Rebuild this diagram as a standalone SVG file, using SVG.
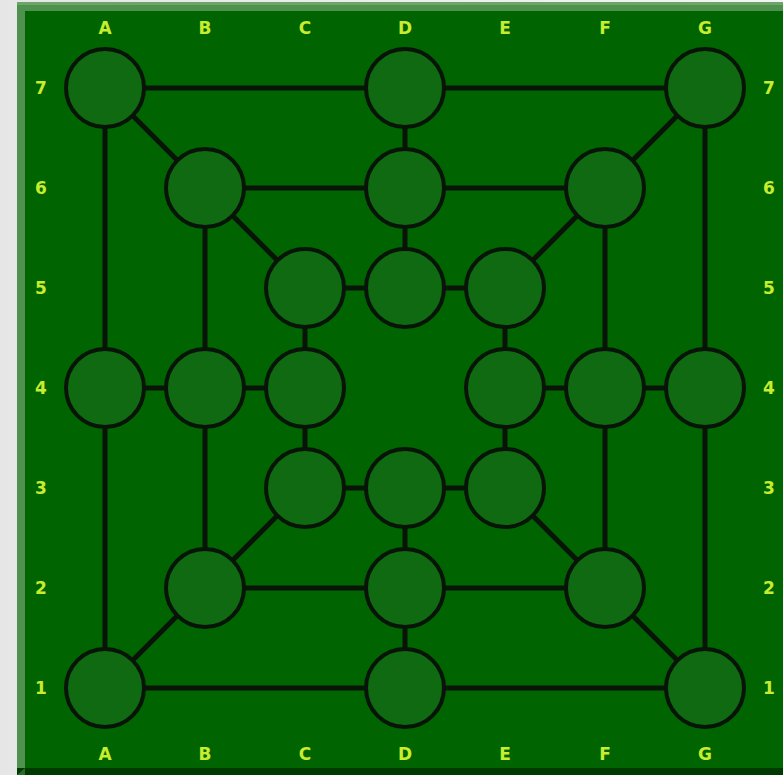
<svg xmlns="http://www.w3.org/2000/svg" width="783" height="775" viewBox="0 0 783 775">
<defs>
<linearGradient id="bg" x1="0" y1="0" x2="1" y2="0">
<stop offset="0" stop-color="#e6e6e6"/><stop offset="1" stop-color="#f4f4f4"/>
</linearGradient>
</defs>
<style>
.n{fill:#0f6a12;stroke:#081408;stroke-width:4}
.c line{stroke:#081408;stroke-width:5}
.t{font-family:"DejaVu Sans",sans-serif;font-weight:bold;font-size:17px;fill:#c8ec30;text-anchor:middle}
</style>
<rect x="0" y="0" width="783" height="775" fill="url(#bg)"/>
<rect x="17" y="2" width="766" height="773" fill="#006400"/>
<polygon points="17,2 783,2 783,11 25,11 25,768 17,775" fill="#4f924f"/>
<polygon points="17,2 783,2 783,5 17,5" fill="#6aa66a"/>
<rect x="17" y="768" width="766" height="7" fill="#003a00"/>
<polygon points="17,775 25,768 25,775" fill="#2a6a2a"/>
<g class="c">
<line x1="105" y1="88" x2="705" y2="88"/><line x1="705" y1="88" x2="705" y2="688"/><line x1="705" y1="688" x2="105" y2="688"/><line x1="105" y1="688" x2="105" y2="88"/>
<line x1="205" y1="188" x2="605" y2="188"/><line x1="605" y1="188" x2="605" y2="588"/><line x1="605" y1="588" x2="205" y2="588"/><line x1="205" y1="588" x2="205" y2="188"/>
<line x1="305" y1="288" x2="505" y2="288"/><line x1="505" y1="288" x2="505" y2="488"/><line x1="505" y1="488" x2="305" y2="488"/><line x1="305" y1="488" x2="305" y2="288"/>
<line x1="405" y1="88" x2="405" y2="288"/><line x1="405" y1="488" x2="405" y2="688"/><line x1="105" y1="388" x2="305" y2="388"/><line x1="505" y1="388" x2="705" y2="388"/>
<line x1="105" y1="88" x2="305" y2="288"/><line x1="705" y1="88" x2="505" y2="288"/><line x1="105" y1="688" x2="305" y2="488"/><line x1="705" y1="688" x2="505" y2="488"/>
</g>
<g id="A7"><circle class="n" cx="105" cy="88" r="39"/></g>
<g id="D7"><circle class="n" cx="405" cy="88" r="39"/></g>
<g id="G7"><circle class="n" cx="705" cy="88" r="39"/></g>
<g id="B6"><circle class="n" cx="205" cy="188" r="39"/></g>
<g id="D6"><circle class="n" cx="405" cy="188" r="39"/></g>
<g id="F6"><circle class="n" cx="605" cy="188" r="39"/></g>
<g id="C5"><circle class="n" cx="305" cy="288" r="39"/></g>
<g id="D5"><circle class="n" cx="405" cy="288" r="39"/></g>
<g id="E5"><circle class="n" cx="505" cy="288" r="39"/></g>
<g id="A4"><circle class="n" cx="105" cy="388" r="39"/></g>
<g id="B4"><circle class="n" cx="205" cy="388" r="39"/></g>
<g id="C4"><circle class="n" cx="305" cy="388" r="39"/></g>
<g id="E4"><circle class="n" cx="505" cy="388" r="39"/></g>
<g id="F4"><circle class="n" cx="605" cy="388" r="39"/></g>
<g id="G4"><circle class="n" cx="705" cy="388" r="39"/></g>
<g id="C3"><circle class="n" cx="305" cy="488" r="39"/></g>
<g id="D3"><circle class="n" cx="405" cy="488" r="39"/></g>
<g id="E3"><circle class="n" cx="505" cy="488" r="39"/></g>
<g id="B2"><circle class="n" cx="205" cy="588" r="39"/></g>
<g id="D2"><circle class="n" cx="405" cy="588" r="39"/></g>
<g id="F2"><circle class="n" cx="605" cy="588" r="39"/></g>
<g id="A1"><circle class="n" cx="105" cy="688" r="39"/></g>
<g id="D1"><circle class="n" cx="405" cy="688" r="39"/></g>
<g id="G1"><circle class="n" cx="705" cy="688" r="39"/></g>
<g id="labels">
<text class="t" x="105" y="34">A</text><text class="t" x="205" y="34">B</text><text class="t" x="305" y="34">C</text><text class="t" x="405" y="34">D</text><text class="t" x="505" y="34">E</text><text class="t" x="605" y="34">F</text><text class="t" x="705" y="34">G</text>
<text class="t" x="105" y="760">A</text><text class="t" x="205" y="760">B</text><text class="t" x="305" y="760">C</text><text class="t" x="405" y="760">D</text><text class="t" x="505" y="760">E</text><text class="t" x="605" y="760">F</text><text class="t" x="705" y="760">G</text>
<text class="t" x="41" y="94">7</text><text class="t" x="41" y="194">6</text><text class="t" x="41" y="294">5</text><text class="t" x="41" y="394">4</text><text class="t" x="41" y="494">3</text><text class="t" x="41" y="594">2</text><text class="t" x="41" y="694">1</text>
<text class="t" x="769" y="94">7</text><text class="t" x="769" y="194">6</text><text class="t" x="769" y="294">5</text><text class="t" x="769" y="394">4</text><text class="t" x="769" y="494">3</text><text class="t" x="769" y="594">2</text><text class="t" x="769" y="694">1</text>
</g>
</svg>
